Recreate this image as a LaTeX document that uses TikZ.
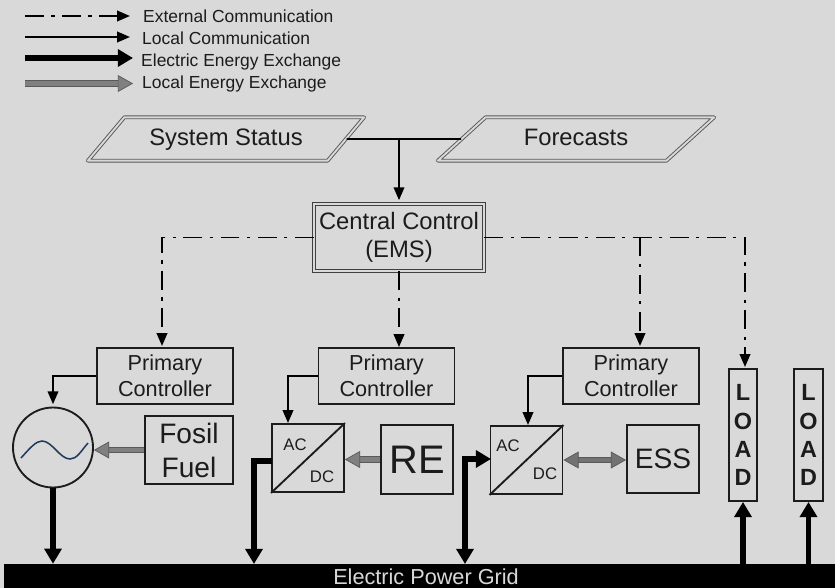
\documentclass[tikz,border=0pt]{standalone}
\usepackage{fontspec}
\setmainfont{Liberation Sans}
\usepackage{tikz}
\usetikzlibrary{calc}
\usetikzlibrary{positioning}
\usetikzlibrary{arrows.meta}
\usetikzlibrary{shapes.geometric}
\definecolor{bgcol}{HTML}{D9D9D9}
\definecolor{inkcol}{HTML}{1C1C1C}
\definecolor{wavecol}{HTML}{1F3A5F}
\newcommand{\fsz}[1]{\fontsize{#1}{1.2\dimexpr#1pt\relax}\selectfont}
\tikzset{
    box/.style={shape=rectangle, draw=inkcol, line width=1.6pt, text=inkcol, align=center, inner sep=0pt},
    datain/.style={shape=trapezium, trapezium left angle=39, trapezium right angle=141, trapezium stretches=true,
        draw=black!65, double=bgcol, double distance=1.6pt, line width=0.8pt, line join=round, text=inkcol,
        inner sep=0pt, minimum width=8.3cm, minimum height=1.3cm, text height=15pt, text depth=4pt, font=\fsz{20.3}},
    primary/.style={box, minimum width=4.08cm, minimum height=1.68cm, font=\fontsize{18.5}{22}\selectfont},
    conv/.style={box, minimum width=2.16cm, minimum height=2.04cm},
    load/.style={box, minimum width=0.85cm, minimum height=3.96cm, font=\fontsize{20}{24}\selectfont\bfseries},
    legtext/.style={anchor=base west, inner sep=0pt, text=inkcol, font=\fsz{14.9}},
    convtext/.style={inner sep=0pt, text=inkcol, font=\fsz{14.3}},
    extcomm/.style={draw=black, line width=1.7pt, dash pattern=on 16.2pt off 6.3pt on 2.8pt off 6.3pt, -{Triangle[length=11pt,width=9pt]}},
    loccomm/.style={draw=black, line width=1.7pt, -{Triangle[length=11pt,width=9pt]}},
    elec/.style={draw=black, line width=5.1pt, -{Triangle[length=13pt,width=14.5pt]}},
    locen/.style={draw=black!65, double=black!50, double distance=4pt, line width=0.6pt,
        -{Triangle[length=13pt,width=14.5pt,fill=black!50,color=black!65,line width=0.6pt]}},
}
\begin{document}
\begin{tikzpicture}[x=0.03cm, y=-0.03cm]
        \useasboundingbox (0,0) rectangle (835,588);
        \fill[bgcol] (0,0) rectangle (835,588);
        % legend
        \node (exttext) at (143,23) [legtext] {External Communication};
        \node (loctext) at (142,44) [legtext] {Local Communication};
        \node (electext) at (141,66) [legtext] {Electric Energy Exchange};
        \node (entext) at (142,88) [legtext] {Local Energy Exchange};
        \coordinate (exta) at (25,16);
        \coordinate (extb) at (130,16);
        \coordinate (loca) at (25,37);
        \coordinate (locb) at (130,37);
        \coordinate (eleca) at (25,58);
        \coordinate (elecb) at (133,58);
        \coordinate (ena) at (25,83.5);
        \coordinate (enb) at (133,83.5);
        \draw (exta) [extcomm] -- (extb);
        \draw (loca) [loccomm] -- (locb);
        \draw (eleca) [elec] -- (elecb);
        \draw (ena) [locen] -- (enb);
        % top level
        \node (status) at (226,139) [datain] {System Status};
        \node (forecast) at (576,139) [datain] {Forecasts};
        \node (central) at (399,237.5) [box, draw=black!75, double=bgcol, double distance=1.6pt, line width=0.8pt,
            minimum width=5.1cm, minimum height=2cm, font=\fsz{20.3}] {Central Control\\(EMS)};
        \coordinate (tee) at (399,138);
        \draw [loccomm, -] (status.east) -- (forecast.west);
        \draw (tee) [loccomm, shorten >=3pt] -- (central.north);
        % controllers and units
        \node (pca) at (165,376) [primary] {Primary\\Controller};
        \node (pcb) at (386.5,376) [primary] {Primary\\Controller};
        \node (pcc) at (631,376) [primary] {Primary\\Controller};
        \node (gen) at (53,447.5) [shape=circle, draw=inkcol, line width=1.6pt, minimum size=2.4cm, inner sep=0pt] {};
        \node (fuel) at (189,450) [box, minimum width=2.64cm, minimum height=2.04cm, font=\fontsize{24}{29}\selectfont] {Fosil\\Fuel};
        \node (acdca) at (308,458) [conv] {};
        \node (re) at (417,459.5) [box, minimum width=2.16cm, minimum height=2.07cm, font=\fsz{34}] {RE};
        \node (acdcb) at (526.5,460) [conv] {};
        \node (ess) at (663,459) [box, minimum width=2.16cm, minimum height=2.04cm, font=\fsz{24}] {ESS};
        \node (loada) at (743,435) [load] {L\\O\\A\\D};
        \node (loadb) at (808.5,435) [load] {L\\O\\A\\D};
        \node (grid) at (419.5,576) [shape=rectangle, fill=black, inner sep=0pt, minimum width=24.93cm, minimum height=0.72cm] {};
        \node (gridtext) at (426,584.5) [anchor=base, inner sep=0pt, text=bgcol, font=\fsz{18.5}] {Electric Power Grid};
        \draw [inkcol, line width=1.6pt] (acdca.south west) -- (acdca.north east);
        \draw [inkcol, line width=1.6pt] (acdcb.south west) -- (acdcb.north east);
        \node (aca) at (295,445) [convtext] {AC};
        \node (dca) at (322,477) [convtext] {DC};
        \node (acb) at (508,446) [convtext] {AC};
        \node (dcb) at (545,474) [convtext] {DC};
        \draw [wavecol, line width=1.3pt] (21,458) .. controls (30,448) and (36,441) .. (42,441) .. controls (52,441) and (60,459) .. (70,459) .. controls (77,459) and (81,451) .. (88,443);
        % external communication
        \coordinate (tapa) at (162,346);
        \coordinate (tapc) at (640,237.5);
        \coordinate (tapd) at (640,346);
        \coordinate (tape) at (745,367);
        \draw (central.west) [extcomm] -| (tapa);
        \draw (central.south) [extcomm] -- (central.south |- pcb.north);
        \draw (central.east) [extcomm] -| (tape);
        \draw (tapc) [extcomm] -- (tapd);
        % local communication
        \coordinate (ina) at (288,423);
        \coordinate (inb) at (528,425);
        \draw (pca.west) [loccomm] -| ([yshift=2pt]gen.north);
        \draw (pcb.west) [loccomm] -| (ina);
        \draw (pcc.west) [loccomm] -| (inb);
        % energy exchange
        \coordinate (porta) at (272,461);
        \coordinate (dropa) at (254,564);
        \coordinate (portb) at (491,459);
        \coordinate (dropb) at (465,564);
        \draw (gen.south) [elec] -- (gen.south |- grid.north);
        \draw (porta) [elec, line join=miter] -| (dropa);
        \draw [elec, {Triangle[length=13pt,width=14.5pt]}-{Triangle[length=13pt,width=14.5pt]}] (dropb) |- (portb);
        \draw [elec] (loada |- grid.north) -- (loada.south);
        \draw [elec] (loadb |- grid.north) -- (loadb.south);
        \draw (fuel.west) [locen] -- (fuel.west -| gen.east);
        \draw (re.west) [locen] -- (re.west -| acdca.east);
        \draw [locen, double=black!55, {Triangle[length=13pt,width=14.5pt,fill=black!55,color=black!65,line width=0.6pt]}-{Triangle[length=13pt,width=14.5pt,fill=black!55,color=black!65,line width=0.6pt]}] (acdcb.east) -- (acdcb.east -| ess.west);
    \end{tikzpicture}
\end{document}
